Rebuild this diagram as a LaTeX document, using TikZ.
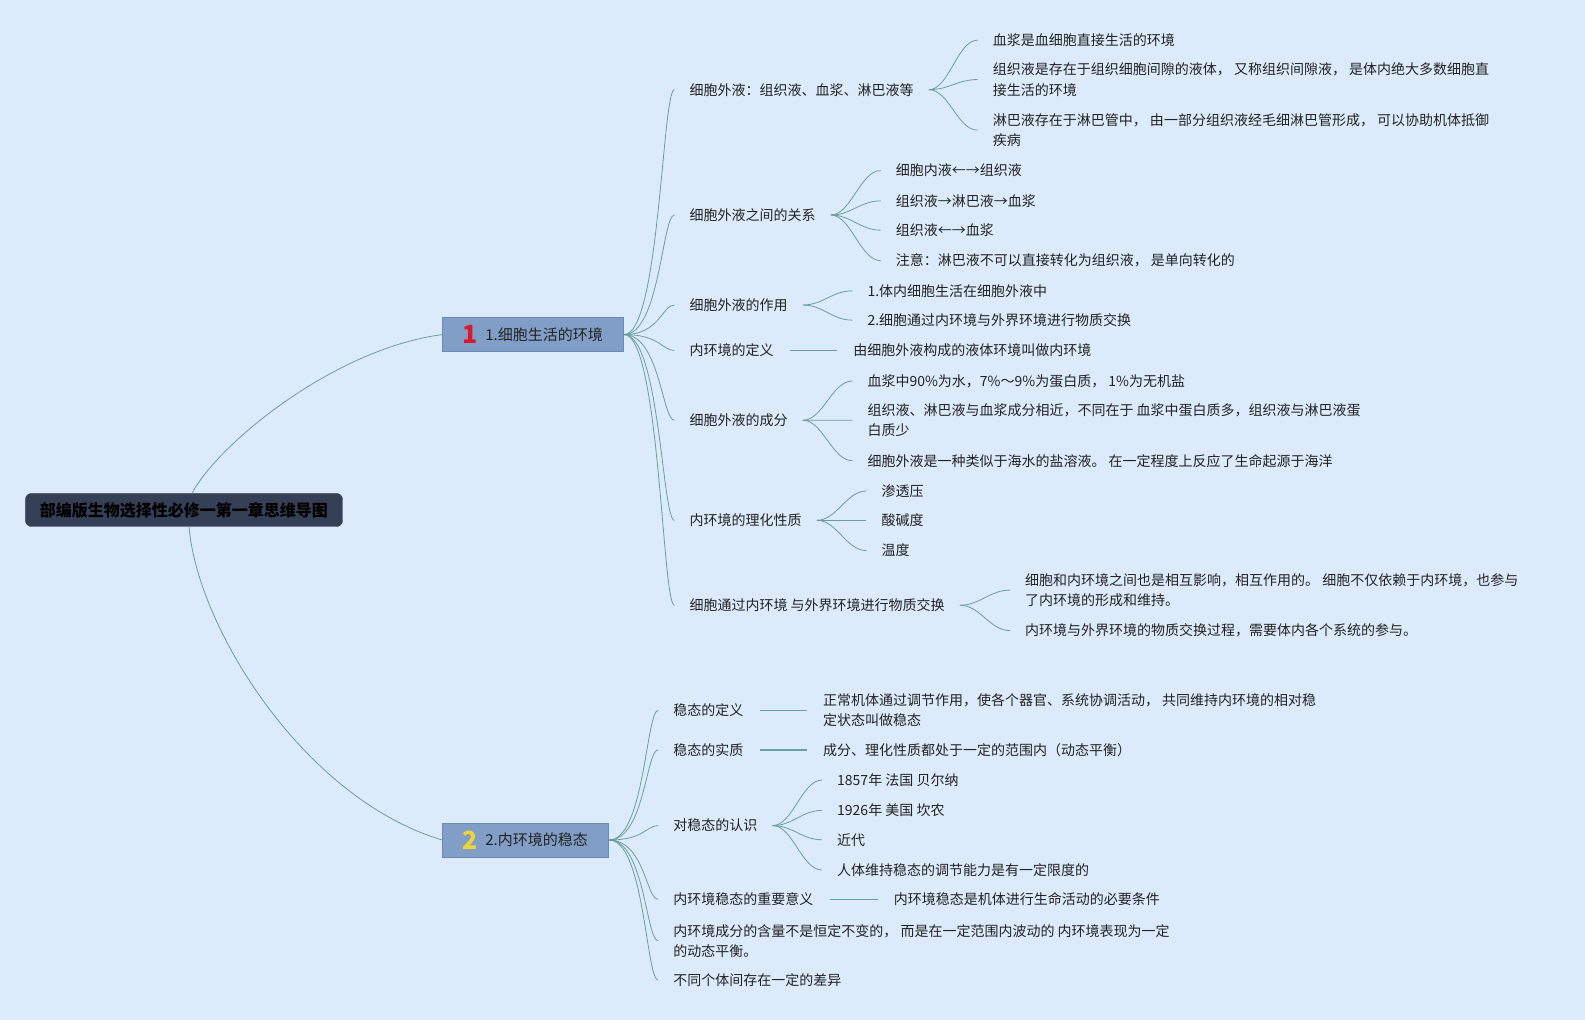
\documentclass[tikz,border=0pt]{standalone}
\usepackage{fontspec}
\setmainfont{Noto Sans CJK SC}
\definecolor{bg}{HTML}{DCEBFB}
\definecolor{lnk}{HTML}{6A9E9A}
\definecolor{txt}{HTML}{222222}
\definecolor{boxf}{HTML}{819FC6}
\definecolor{boxd}{HTML}{6A8AAE}
\definecolor{rootf}{HTML}{353F56}
\definecolor{rootd}{HTML}{2A3346}
\definecolor{numred}{HTML}{E0162C}
\definecolor{numyel}{HTML}{F0D43C}
\tikzset{
  topic/.style={anchor=base west, inner sep=0pt, align=left, text=txt, font=\fontsize{14}{20.2}\selectfont},
  conn/.style={draw=lnk, line width=0.8pt},
  sconn/.style={draw=lnk, line width=1.6pt},
  mainbox/.style={draw=boxd, fill=boxf, line width=0.8pt, minimum height=34pt, inner sep=0pt},
  rootbox/.style={draw=rootd, fill=rootf, rounded corners=6pt, minimum width=317pt, minimum height=33pt, inner sep=0pt},
  numicon/.style={inner sep=0pt, font=\fontsize{25}{25}\selectfont\bfseries},
}
\newcommand\fan[2]{\draw[conn] ([xshift=15pt]#1.east) .. controls +(20,0) and +(-20,0) .. ([xshift=-15pt]#2.west);}
\newcommand\fromm[2]{\draw[conn] (#1.east) .. controls +(35,0) and +(-12,0) .. ([xshift=-15pt]#2.west);}
\newcommand\straight[2]{\draw[sconn] ([xshift=16pt]#1.east) -- ([xshift=-16pt]#1.east -| #2.west);}
\begin{document}
\begin{tikzpicture}[x=1.0108pt,y=-1.0108pt]
\fill[bg] (0,0) rectangle (1568,1009);
\useasboundingbox (0,0) rectangle (1568,1009);

% root and main boxes
\node[rootbox] (root) at (182,504.5) {};
\node[inner sep=0pt, text=black, font=\fontsize{16}{16}\selectfont\bfseries] (roott) at (182,504.5) {部编版生物选择性必修一第一章思维导图};
\node[mainbox, minimum width=181pt] (m1) at (527.5,331) {};
\node[numicon, text=numred] (n1) at (465,331) {1};
\node[anchor=west, inner sep=0pt, text=txt, font=\fontsize{15}{15}\selectfont] (m1t) at (480,331) {1.细胞生活的环境};
\node[mainbox, minimum width=166pt] (m2) at (520,831) {};
\node[numicon, text=numyel] (n2) at (465,831) {2};
\node[anchor=west, inner sep=0pt, text=txt, font=\fontsize{15}{15}\selectfont] (m2t) at (480,831) {2.内环境的稳态};

\coordinate (rtop) at (190,488);
\coordinate (rbot) at (187,521);
\draw[conn] (rtop) .. controls (215,440) and (330,345) .. (m1.west);
\draw[conn] (rbot) .. controls (195,620) and (300,790) .. (m2.west);

% ===== branch 1 =====
\node[topic] (a1) at (682,94) {细胞外液：组织液、血浆、淋巴液等};
\node[topic] (a2) at (682,218) {细胞外液之间的关系};
\node[topic] (a3) at (682,307) {细胞外液的作用};
\node[topic] (a4) at (682,352) {内环境的定义};
\node[topic] (a5) at (682,421) {细胞外液的成分};
\node[topic] (a6) at (682,520) {内环境的理化性质};
\node[topic] (a7) at (682,604) {细胞通过内环境 与外界环境进行物质交换};
\foreach \c in {a1,a2,a3,a4,a5,a6,a7} {\fromm{m1}{\c}}

\node[topic] (a11) at (982,45) {血浆是血细胞直接生活的环境};
\node[topic] (a12) at (982,94) {组织液是存在于组织细胞间隙的液体， 又称组织间隙液， 是体内绝大多数细胞直\\接生活的环境};
\node[topic] (a13) at (982,144) {淋巴液存在于淋巴管中， 由一部分组织液经毛细淋巴管形成， 可以协助机体抵御\\疾病};
\foreach \c in {a11,a12,a13} {\fan{a1}{\c}}

\node[topic] (a21) at (886,174) {细胞内液←→组织液};
\node[topic] (a22) at (886,204) {组织液→淋巴液→血浆};
\node[topic] (a23) at (886,233) {组织液←→血浆};
\node[topic] (a24) at (886,263) {注意：淋巴液不可以直接转化为组织液， 是单向转化的};
\foreach \c in {a21,a22,a23,a24} {\fan{a2}{\c}}

\node[topic] (a31) at (858,293) {1.体内细胞生活在细胞外液中};
\node[topic] (a32) at (858,322) {2.细胞通过内环境与外界环境进行物质交换};
\foreach \c in {a31,a32} {\fan{a3}{\c}}

\node[topic] (a41) at (844,352) {由细胞外液构成的液体环境叫做内环境};
\straight{a4}{a41}

\node[topic] (a51) at (858,382) {血浆中90\%为水，7\%～9\%为蛋白质， 1\%为无机盐};
\node[topic] (a52) at (858,431) {组织液、淋巴液与血浆成分相近，不同在于 血浆中蛋白质多，组织液与淋巴液蛋\\白质少};
\node[topic] (a53) at (858,461) {细胞外液是一种类似于海水的盐溶液。 在一定程度上反应了生命起源于海洋};
\foreach \c in {a51,a52,a53} {\fan{a5}{\c}}

\node[topic] (a61) at (872,491) {渗透压};
\node[topic] (a62) at (872,520) {酸碱度};
\node[topic] (a63) at (872,550) {温度};
\foreach \c in {a61,a62,a63} {\fan{a6}{\c}}

\node[topic] (a71) at (1014,599) {细胞和内环境之间也是相互影响，相互作用的。 细胞不仅依赖于内环境，也参与\\了内环境的形成和维持。};
\node[topic] (a72) at (1014,629) {内环境与外界环境的物质交换过程，需要体内各个系统的参与。};
\foreach \c in {a71,a72} {\fan{a7}{\c}}

% ===== branch 2 =====
\node[topic] (b1) at (666,708) {稳态的定义};
\node[topic] (b2) at (666,747) {稳态的实质};
\node[topic] (b3) at (666,822) {对稳态的认识};
\node[topic] (b4) at (666,895) {内环境稳态的重要意义};
\node[topic] (b5) at (666,946) {内环境成分的含量不是恒定不变的， 而是在一定范围内波动的 内环境表现为一定\\的动态平衡。};
\node[topic] (b6) at (666,975) {不同个体间存在一定的差异};
\foreach \c in {b1,b2,b3,b4,b5,b6} {\fromm{m2}{\c}}

\node[topic] (b11) at (814,718) {正常机体通过调节作用，使各个器官、系统协调活动， 共同维持内环境的相对稳\\定状态叫做稳态};
\straight{b1}{b11}
\node[topic] (b21) at (814,747) {成分、理化性质都处于一定的范围内（动态平衡）};
\straight{b2}{b21}

\node[topic] (b31) at (828,777) {1857年 法国 贝尔纳};
\node[topic] (b32) at (828,807) {1926年 美国 坎农};
\node[topic] (b33) at (828,836) {近代};
\node[topic] (b34) at (828,866) {人体维持稳态的调节能力是有一定限度的};
\foreach \c in {b31,b32,b33,b34} {\fan{b3}{\c}}

\node[topic] (b41) at (884,895) {内环境稳态是机体进行生命活动的必要条件};
\straight{b4}{b41}
\end{tikzpicture}
\end{document}
